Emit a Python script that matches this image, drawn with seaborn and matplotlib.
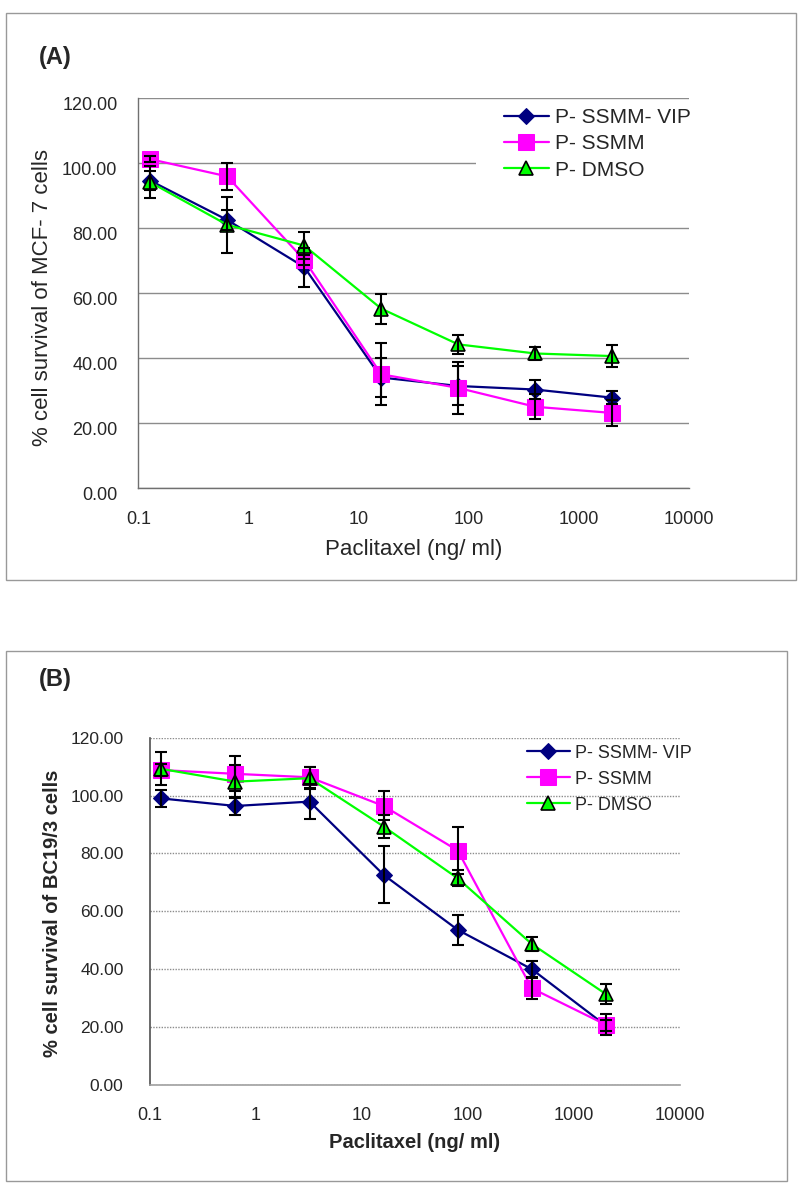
import matplotlib
matplotlib.use("Agg")
import matplotlib.pyplot as plt
import matplotlib.transforms as mtransforms
from matplotlib.patches import Rectangle
from matplotlib.ticker import NullLocator
import pandas as pd
import seaborn as sns

# Paclitaxel concentrations (ng/ml), 5-fold dilutions
conc = [0.128, 0.64, 3.2, 16, 80, 400, 2000]
series_names = ["P- SSMM- VIP", "P- SSMM", "P- DMSO"]

# Panel A: MCF-7 cells
vip_a = [94.7, 82.6, 68.1, 34.1, 31.5, 30.4, 27.9]
vip_a_err = [3.0, 3.1, 6.0, 6.0, 6.0, 3.0, 2.0]
ssmm_a = [101.3, 96.0, 70.3, 35.1, 30.9, 25.1, 23.2]
ssmm_a_err = [1.0, 4.1, 1.5, 9.5, 8.0, 3.8, 4.0]
dmso_a = [94.2, 81.1, 74.7, 55.3, 44.3, 41.5, 40.7]
dmso_a_err = [5.0, 8.7, 4.1, 4.6, 3.0, 2.0, 3.5]

# Panel B: BC19/3 cells
vip_b = [99.0, 96.4, 97.9, 72.6, 53.6, 40.0, 20.5]
vip_b_err = [2.8, 3.0, 6.0, 9.8, 5.2, 3.0, 2.0]
ssmm_b = [108.8, 107.5, 106.3, 96.4, 81.0, 33.4, 20.8]
ssmm_b_err = [2.0, 6.0, 3.7, 5.0, 8.0, 3.8, 3.6]
dmso_b = [109.2, 104.8, 106.0, 89.3, 71.4, 48.7, 31.4]
dmso_b_err = [5.7, 5.8, 3.7, 4.0, 2.8, 2.3, 3.4]

x_ticks = [0.1, 1, 10, 100, 1000, 10000]
x_tick_labels = ["0.1", "1", "10", "100", "1000", "10000"]
y_ticks = [0, 20, 40, 60, 80, 100, 120]
y_tick_labels = ["%.2f" % v for v in y_ticks]

styles = {
    "P- SSMM- VIP": dict(color="#000080", marker="D", markersize=8.5, markeredgecolor="#000080"),
    "P- SSMM": dict(color="#FF00FF", marker="s", markersize=11, markeredgecolor="#FF00FF"),
    "P- DMSO": dict(color="#00FF00", marker="^", markersize=9.5, markeredgecolor="black",
                    markeredgewidth=1.2),
}

sns.set_style("white")
plt.rcParams["font.family"] = ["Liberation Sans", "DejaVu Sans"]


def make_frame(vip, ssmm, dmso, vip_err, ssmm_err, dmso_err):
    rows = []
    for name, vals, errs in zip(series_names, [vip, ssmm, dmso], [vip_err, ssmm_err, dmso_err]):
        for c, v, e in zip(conc, vals, errs):
            rows.append({"conc": c, "survival": v, "err": e, "series": name})
    return pd.DataFrame(rows)


def draw_panel(ax, df):
    for name in series_names:
        sub = df[df["series"] == name]
        sns.lineplot(data=sub, x="conc", y="survival", ax=ax, label=name,
                     linewidth=1.6, errorbar=None, zorder=3, **styles[name])
        ax.errorbar(sub["conc"], sub["survival"], yerr=sub["err"], fmt="none",
                    ecolor="black", elinewidth=1.5, capsize=4, capthick=1.5, zorder=4)
    ax.set_xscale("log")
    ax.set_xlim(0.1, 10000)
    ax.set_ylim(0, 120)
    ax.set_xticks(x_ticks)
    ax.set_xticklabels(x_tick_labels)
    ax.xaxis.set_minor_locator(NullLocator())
    ax.set_yticks(y_ticks)
    ax.set_yticklabels(y_tick_labels)
    ax.set_axisbelow(True)
    ax.spines["top"].set_visible(False)
    ax.spines["right"].set_visible(False)


fig = plt.figure(figsize=(8, 11.94), dpi=100)

# outer frames of the two panels
fig.patches.append(Rectangle((6 / 800, 1 - 580 / 1194), 790 / 800, 567 / 1194,
                             transform=fig.transFigure, fill=False, edgecolor="#999999", linewidth=1))
fig.patches.append(Rectangle((6 / 800, 1 - 1181 / 1194), 781 / 800, 530 / 1194,
                             transform=fig.transFigure, fill=False, edgecolor="#999999", linewidth=1))

# ---- Panel A ----
ax_a = fig.add_axes([0.1729, 0.5910, 0.6888, 0.3266])
ax_a.patch.set_alpha(0)
draw_panel(ax_a, make_frame(vip_a, ssmm_a, dmso_a, vip_a_err, ssmm_a_err, dmso_a_err))
ax_a.grid(axis="y", color="#8c8c8c", linewidth=1, linestyle="-")
for s in ["left", "bottom"]:
    ax_a.spines[s].set_color("#707070")
    ax_a.spines[s].set_linewidth(1)
ax_a.tick_params(axis="x", direction="in", length=4, width=1, color="#707070",
                 labelsize=13, pad=16)
ax_a.tick_params(axis="y", length=0, labelsize=13, pad=15)
shift = mtransforms.ScaledTranslation(0, -5 / 100, fig.dpi_scale_trans)
for lbl in ax_a.get_yticklabels():
    lbl.set_transform(lbl.get_transform() + shift)
# white legend area hides the gridline behind it
ax_a.add_patch(Rectangle((0.613, 0.796), 0.40, 0.20, transform=ax_a.transAxes,
                         facecolor="white", edgecolor="none", zorder=1, clip_on=False))
ax_a.legend(loc="upper left", bbox_to_anchor=(0.6637, 0.975), frameon=False, fontsize=15,
            handlelength=2.15, handletextpad=0.3, labelspacing=0.35, borderpad=0,
            borderaxespad=0)
ax_a.set_xlabel("")
ax_a.set_ylabel("")
fig.text(414 / 800, 1 - 550 / 1194, "Paclitaxel (ng/ ml)", fontsize=16,
         ha="center", va="center")
fig.text(43 / 800, 1 - 298 / 1194, "% cell survival of MCF- 7 cells", fontsize=16,
         rotation=90, ha="center", va="center")
fig.text(55 / 800, 1 - 57.5 / 1194, "(A)", fontsize=17, fontweight="bold",
         ha="center", va="center")

# ---- Panel B ----
ax_b = fig.add_axes([0.1875, 0.0913, 0.6625, 0.2909])
ax_b.patch.set_alpha(0)
draw_panel(ax_b, make_frame(vip_b, ssmm_b, dmso_b, vip_b_err, ssmm_b_err, dmso_b_err))
ax_b.grid(axis="y", color="#8c8c8c", linewidth=1, linestyle=(0, (1, 1)))
ax_b.spines["left"].set_color("#505050")
ax_b.spines["bottom"].set_color("#a0a0a0")
ax_b.spines["left"].set_linewidth(1.2)
ax_b.spines["bottom"].set_linewidth(1.2)
ax_b.tick_params(axis="x", direction="inout", length=7, width=1, color="#a0a0a0",
                 labelsize=13, pad=12)
ax_b.tick_params(axis="y", direction="out", length=3, width=1, color="#505050",
                 labelsize=12.5, pad=16)
ax_b.legend(loc="upper left", bbox_to_anchor=(0.7104, 0.98), frameon=False, fontsize=13,
            handlelength=2.4, handletextpad=0.3, labelspacing=0.5, borderpad=0,
            borderaxespad=0)
ax_b.set_xlabel("")
ax_b.set_ylabel("")
fig.text(415 / 800, 1 - 1143 / 1194, "Paclitaxel (ng/ ml)", fontsize=14.5, fontweight="bold",
         ha="center", va="center")
fig.text(53 / 800, 1 - 913 / 1194, "% cell survival of BC19/3 cells", fontsize=14.5,
         fontweight="bold", rotation=90, ha="center", va="center")
fig.text(55 / 800, 1 - 680 / 1194, "(B)", fontsize=17, fontweight="bold",
         ha="center", va="center")

fig.savefig("out.png", dpi=100)
